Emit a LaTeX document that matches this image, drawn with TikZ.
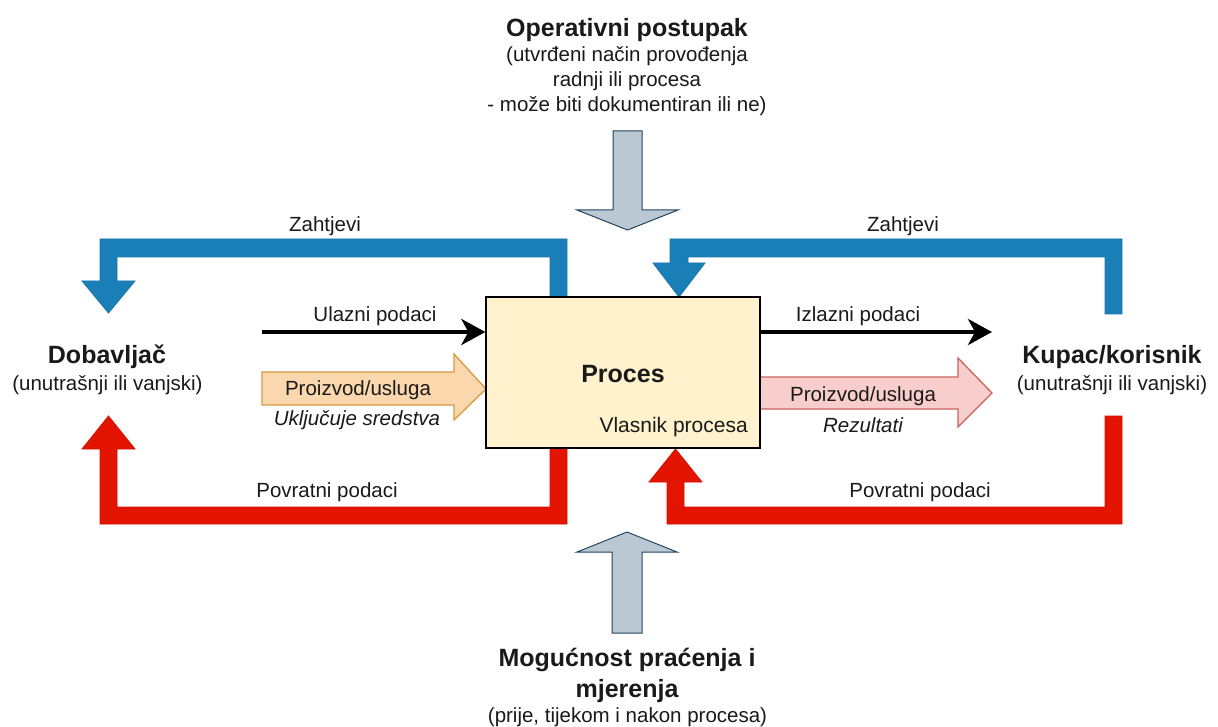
\documentclass[tikz,border=0pt]{standalone}
\usepackage{fontspec}
\setmainfont{Liberation Sans}
\usetikzlibrary{arrows.meta}
\definecolor{txt}{HTML}{1A1A1A}
\definecolor{blueF}{HTML}{1B7FB7}
\definecolor{blueS}{HTML}{1A77AD}
\definecolor{redF}{HTML}{E31400}
\definecolor{redS}{HTML}{D01200}
\definecolor{grayF}{HTML}{BAC8D3}
\definecolor{grayS}{HTML}{23445D}
\definecolor{orF}{HTML}{FAD7AC}
\definecolor{orS}{HTML}{D89A40}
\definecolor{pkF}{HTML}{F8CECC}
\definecolor{pkS}{HTML}{C8625E}
\definecolor{procF}{HTML}{FFF2CC}
\begin{document}
\begin{tikzpicture}[x=1pt,y=-1pt,
  lbl/.style={font=\fontsize{20.5}{25}\selectfont, text=txt, inner sep=0pt, anchor=base},
  itl/.style={lbl, font=\itshape\fontsize{20.5}{25}\selectfont},
  hdr/.style={font=\bfseries\fontsize{25}{30}\selectfont, text=txt, inner sep=0pt, anchor=base},
  bluearrow/.style={fill=blueF, draw=blueS, line width=0.8pt, line join=miter},
  redarrow/.style={fill=redF, draw=redS, line width=0.8pt, line join=miter},
  grayarrow/.style={fill=grayF, draw=grayS, line width=1pt, line join=miter},
  orarrow/.style={fill=orF, draw=orS, line width=1.3pt, line join=miter},
  pkarrow/.style={fill=pkF, draw=pkS, line width=1.3pt, line join=miter},
  dataarrow/.style={draw=black, line width=4pt, -{Stealth[length=24pt, width=26pt, inset=7pt]}},
  procbox/.style={draw=black, fill=procF, line width=1.3pt, inner sep=0pt, minimum width=274pt, minimum height=151pt}
]
\useasboundingbox (0,0) rectangle (1218,727);
\fill[white] (0,0) rectangle (1218,727);

% feedback / requirement loops
\draw[bluearrow] (567,298) -- (567,239) -- (100,239) -- (100,281) -- (82,281) -- (108.5,313) -- (135,281) -- (117,281) -- (117,257) -- (550,257) -- (550,298) -- cycle;
\draw[bluearrow] (1122,314) -- (1122,239) -- (670,239) -- (670,263) -- (653,263) -- (679,297) -- (705,263) -- (688,263) -- (688,257) -- (1105,257) -- (1105,314) -- cycle;
\draw[redarrow] (567,448) -- (567,524) -- (100,524) -- (100,449) -- (82,449) -- (108.5,416) -- (135,449) -- (117,449) -- (117,507) -- (550,507) -- (550,448) -- cycle;
\draw[redarrow] (1122,416) -- (1122,524) -- (667,524) -- (667,482) -- (649,482) -- (675.5,449) -- (702,482) -- (684,482) -- (684,507) -- (1105,507) -- (1105,416) -- cycle;

% gray arrows
\draw[grayarrow] (613,131) -- (642,131) -- (642,210) -- (678,210) -- (627.5,230) -- (577,210) -- (613,210) -- cycle;
\draw[grayarrow] (612,633) -- (642,633) -- (642,552) -- (677,552) -- (627,532) -- (577,552) -- (612,552) -- cycle;

% product arrows
\draw[orarrow] (262,372) -- (454,372) -- (454,354) -- (486,389) -- (454,420) -- (454,405) -- (262,405) -- cycle;
\draw[pkarrow] (760,377) -- (958,377) -- (958,358) -- (992,393) -- (958,427) -- (958,409) -- (760,409) -- cycle;

% process box
\node[procbox] (proc) at (623,372.5) {};
\node[hdr] (procname) at (623,382) {Proces};
\node[lbl, anchor=base east, font=\fontsize{21}{25}\selectfont] (owner) at (748,432) {Vlasnik procesa};

% data connectors
\coordinate (ulstart) at (262,332);
\coordinate (izend) at (992,332);
\draw[dataarrow] (ulstart) -- (ulstart -| proc.west);
\draw[dataarrow] (izend -| proc.east) -- (izend);

% labels
\node[hdr] (op) at (627,37) {Operativni postupak};
\node[lbl] (op1) at (627,62) {(utvrđeni način provođenja};
\node[lbl] (op2) at (627,87) {radnji ili procesa};
\node[lbl] (op3) at (627,112) {- može biti dokumentiran ili ne)};

\node[lbl] (zl) at (325,232) {Zahtjevi};
\node[lbl] (zr) at (903,232) {Zahtjevi};
\node[lbl] (ul) at (375,322) {Ulazni podaci};
\node[lbl] (iz) at (858,322) {Izlazni podaci};

\node[hdr] (dob) at (107,363) {Dobavljač};
\node[lbl] (dobs) at (107.5,390) {(unutrašnji ili vanjski)};
\node[hdr] (kup) at (1112,363) {Kupac/korisnik};
\node[lbl] (kups) at (1112,390) {(unutrašnji ili vanjski)};

\node[lbl] (pl) at (358,395) {Proizvod/usluga};
\node[itl] (ukl) at (357,425) {Uključuje sredstva};
\node[lbl] (pr) at (863,401) {Proizvod/usluga};
\node[itl] (rez) at (863,432) {Rezultati};

\node[lbl] (pvl) at (327,497) {Povratni podaci};
\node[lbl] (pvr) at (920,497) {Povratni podaci};

\node[hdr] (mog) at (627,666) {Mogućnost praćenja i};
\node[hdr] (mje) at (627,697) {mjerenja};
\node[lbl] (pri) at (627.5,722) {(prije, tijekom i nakon procesa)};
\end{tikzpicture}
\end{document}
